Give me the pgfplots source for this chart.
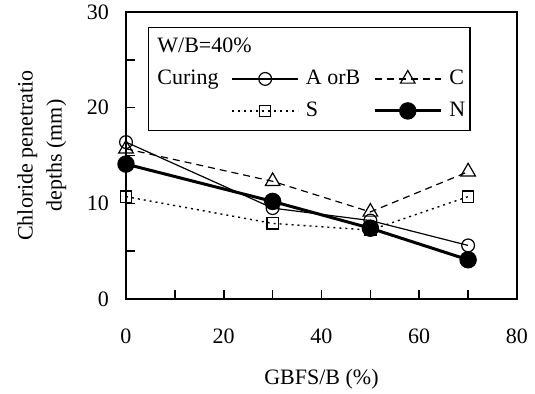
\documentclass[border=0pt]{standalone}
\usepackage{fontspec}
\setmainfont{Liberation Serif}
\usepackage{pgfplots}
\pgfplotsset{compat=1.18}
\begin{document}
\begin{tikzpicture}
\useasboundingbox (-63pt,-47.5pt) rectangle (204.5pt,149.5pt);
\begin{axis}[
  at={(0,0)}, anchor=south west,
  scale only axis, width=195.5pt, height=143.5pt,
  font=\fontsize{11}{13.5}\selectfont,
  /pgf/number format/assume math mode=true,
  xmin=0, xmax=80, ymin=0, ymax=30,
  xtick={0,20,...,80}, ytick={0,10,20,30},
  minor xtick={10,30,50,70}, minor ytick={5,15,25},
  xtick pos=bottom, ytick pos=left,
  tick align=inside,
  major tick length=4.5pt, minor tick length=4.5pt,
  every tick/.style={black, line width=0.8pt},
  axis line style={line width=1.2pt},
  xticklabel style={yshift=-11.5pt},
  yticklabel style={xshift=-5pt},
  xlabel={GBFS/B (\%)},
  xlabel style={at={(axis description cs:0.5,0)}, anchor=base, yshift=-43pt},
  legend image code/.code={\draw[mark repeat=2,mark phase=2,#1] plot coordinates {(0pt,0pt) (16.5pt,0pt) (33pt,0pt)};},
  legend columns=3,
  legend style={at={(axis description cs:0.0552,0.949)}, anchor=north west,
    draw=black, line width=0.8pt, inner xsep=1pt, inner ysep=3.5pt,
    font=\fontsize{11}{13.5}\selectfont, row sep=3.5pt,
    nodes={inner sep=1.5pt, text depth=0.2em, text height=0.75em},
    /tikz/every odd column/.append style={column sep=2pt},
    /tikz/every even column/.append style={column sep=5pt}},
  legend cell align=left,
  clip=false,
]
\addplot[forget plot, black, line width=0.6pt, mark=o, mark size=3.2pt, mark options={solid, line width=0.6pt}] coordinates {(0,16.4) (30,9.5) (50,8.2) (70,5.6)};
\addplot[forget plot, black, line width=0.6pt, dash pattern=on 3.5pt off 2.5pt, mark=triangle, mark size=4.2pt, mark options={solid, line width=0.6pt}] coordinates {(0,15.7) (30,12.3) (50,9.1) (70,13.3)};
\addplot[forget plot, black, line width=0.7pt, dash pattern=on 1pt off 2pt, mark=square, mark size=2.8pt, mark options={solid, line width=0.6pt}] coordinates {(0,10.7) (30,7.9) (50,7.2) (70,10.7)};
\addplot[forget plot, black, line width=1.5pt, mark=*, mark size=3.6pt, mark options={solid}] coordinates {(0,14.1) (30,10.2) (50,7.4) (70,4.1)};

\addlegendimage{empty legend}\addlegendentry{\makebox[0pt][l]{W/B=40\%}}
\addlegendimage{empty legend}\addlegendentry{}
\addlegendimage{empty legend}\addlegendentry{}
\addlegendimage{empty legend}\addlegendentry{Curing\hspace{4pt}}
\addlegendimage{black, line width=0.6pt, mark=o, mark size=3.2pt, mark options={solid, line width=0.6pt}}\addlegendentry{A orB\hspace{2pt}}
\addlegendimage{black, line width=0.6pt, dash pattern=on 3.5pt off 2.5pt, mark=triangle, mark size=4.2pt, mark options={solid, line width=0.6pt}}\addlegendentry{C\hspace{4pt}}
\addlegendimage{empty legend}\addlegendentry{}
\addlegendimage{black, line width=0.7pt, dash pattern=on 1pt off 2pt, mark=square, mark size=2.8pt, mark options={solid, line width=0.6pt}}\addlegendentry{S}
\addlegendimage{black, line width=1.5pt, mark=*, mark size=3.6pt, mark options={solid}}\addlegendentry{N}
\node[rotate=90, align=center, anchor=center, font=\fontsize{11}{14.5}\selectfont] at (axis description cs:-0.215,0.5) {Chloride penetratio\\depths (mm)};
\end{axis}
\end{tikzpicture}
\end{document}
